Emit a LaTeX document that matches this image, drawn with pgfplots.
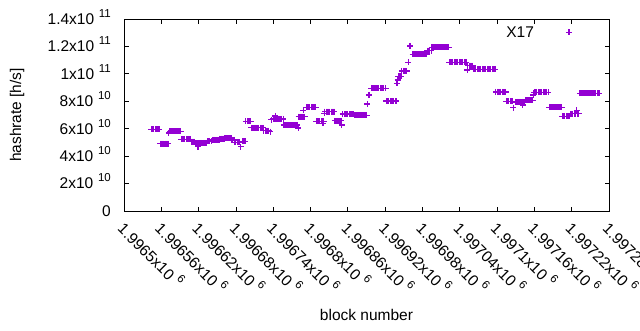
\documentclass[border=0pt]{standalone}
\usepackage{fontspec}
\setmainfont{Liberation Sans}
\usepackage{pgfplots}
\pgfplotsset{compat=1.18}
\definecolor{gpviolet}{HTML}{9400D3}
\newcommand\sups[1]{\hspace{0.3em}\raisebox{0.45em}[0pt][0pt]{\fontsize{11.5}{12}\selectfont #1}}
\begin{document}
\begin{tikzpicture}[font=\fontsize{15.5}{18}\selectfont]
\begin{axis}[
  scale only axis, width=485pt, height=192pt,
  xmin=500, xmax=1280, ymin=0, ymax=1.4e11,
  scaled y ticks=false, scaled x ticks=false,
  axis line style={line width=0.8pt},
  tick style={line width=0.8pt, black},
  major tick length=4.5pt, tick align=inside, tick pos=both,
  xtick={500,560,...,1280},
  xticklabels={1.9965x10\sups{6},1.99656x10\sups{6},1.99662x10\sups{6},1.99668x10\sups{6},1.99674x10\sups{6},1.9968x10\sups{6},1.99686x10\sups{6},1.99692x10\sups{6},1.99698x10\sups{6},1.99704x10\sups{6},1.9971x10\sups{6},1.99716x10\sups{6},1.99722x10\sups{6},1.99728x10\sups{6}},
  xticklabel style={yshift=-11pt, xshift=0.5pt, rotate=-45, anchor=north west, inner sep=0pt},
  ytick={0,2e10,4e10,6e10,8e10,1e11,1.2e11,1.4e11},
  yticklabels={0,2x10\sups{10},4x10\sups{10},6x10\sups{10},8x10\sups{10},1x10\sups{11},1.2x10\sups{11},1.4x10\sups{11}},
  yticklabel style={xshift=-13pt, anchor=east, inner sep=0pt},
  every axis x label/.style={at={(rel axis cs:0.5,0)}, anchor=center, yshift=-104pt},
  every axis y label/.style={at={(rel axis cs:0,0.5)}, anchor=center, xshift=-107pt, rotate=90},
  xlabel={block number},
  ylabel={hashrate [h/s]},
  legend plot pos=right,
  legend style={draw=none, fill=none, at={(rel axis cs:0.788,0.93)}, anchor=west, inner sep=0pt, nodes={inner sep=0pt}, /tikz/column sep=0pt},
  legend image code/.code={\path[draw=none, fill=none] (0pt,0pt) rectangle (35pt,0pt); \path[#1, draw=none] plot coordinates {(35pt,0pt)};},
]
\coordinate (bl) at (rel axis cs:0,0);
\coordinate (tr) at (rel axis cs:1,1);
\addplot[only marks, mark=+, mark size=3pt, color=gpviolet, mark options={line width=1.1pt, draw=gpviolet}] coordinates {
(544,5.96e10)(546,5.96e10)(548,5.96e10)(550,5.96e10)(552,5.96e10)(554,5.96e10)(556,5.96e10)(557,5.96e10)
(558,4.91e10)(560,4.91e10)(562,4.91e10)(564,4.91e10)(566,4.91e10)(568,4.91e10)(570,4.91e10)(571,4.91e10)
(572,5.69e10)
(574,5.81e10)(576,5.81e10)(578,5.81e10)(580,5.81e10)(582,5.81e10)(584,5.81e10)(586,5.81e10)(588,5.81e10)(590,5.81e10)(591,5.81e10)
(592,5.23e10)(594,5.23e10)(596,5.23e10)(598,5.23e10)(600,5.23e10)(602,5.23e10)(604,5.23e10)(606,5.23e10)(607,5.23e10)
(608,5.05e10)(610,5.05e10)(612,5.05e10)(614,5.05e10)
(615,4.94e10)(617,4.94e10)(619,4.94e10)(621,4.94e10)(622,4.94e10)(619,4.69e10)
(623,4.96e10)(625,4.96e10)(627,4.96e10)(629,4.96e10)(631,4.96e10)(633,4.96e10)
(634,5.10e10)(636,5.10e10)(638,5.10e10)(640,5.10e10)(641,5.10e10)
(642,5.18e10)(644,5.18e10)(646,5.18e10)(648,5.18e10)(650,5.18e10)(652,5.18e10)(653,5.18e10)
(654,5.27e10)(656,5.27e10)(658,5.27e10)(660,5.27e10)(661,5.27e10)
(662,5.32e10)(664,5.32e10)(666,5.32e10)(668,5.32e10)(670,5.32e10)(672,5.32e10)
(673,5.18e10)(675,5.18e10)(677,5.18e10)
(678,5.01e10)(680,5.01e10)(682,5.01e10)(684,5.01e10)(686,5.01e10)(688,4.69e10)
(690,5.10e10)(692,5.10e10)(694,5.10e10)(695,5.10e10)
(696,6.54e10)(698,6.54e10)(700,6.54e10)(702,6.54e10)(704,6.54e10)
(705,6.07e10)(707,6.07e10)(709,6.07e10)(711,6.07e10)(713,6.07e10)(715,6.07e10)(717,6.07e10)(719,6.07e10)(721,6.07e10)(723,6.07e10)(724,6.07e10)
(725,5.86e10)(727,5.86e10)(729,5.86e10)(731,5.86e10)(733,5.86e10)(735,5.78e10)
(737,6.64e10)
(740,6.71e10)(742,6.71e10)(743,6.93e10)(744,6.71e10)(746,6.71e10)(748,6.71e10)(750,6.71e10)(752,6.71e10)(754,6.71e10)(756,6.71e10)
(757,6.27e10)(759,6.27e10)(761,6.27e10)(763,6.27e10)(765,6.27e10)(767,6.27e10)(769,6.27e10)(771,6.27e10)(773,6.27e10)(775,6.27e10)(777,6.27e10)(779,6.27e10)(780,6.05e10)
(781,6.88e10)(783,6.88e10)(785,6.88e10)(787,6.88e10)(788,7.36e10)(789,6.88e10)(791,6.88e10)
(793,7.56e10)(795,7.56e10)(797,7.56e10)(799,7.56e10)(801,7.56e10)(803,7.56e10)(805,7.56e10)(807,7.56e10)(808,7.56e10)
(809,6.54e10)(811,6.54e10)(813,6.54e10)(815,6.54e10)(817,6.54e10)(819,6.54e10)(820,6.39e10)(821,6.54e10)
(822,7.12e10)
(823,7.24e10)(825,7.24e10)(827,7.24e10)(829,7.24e10)(831,7.24e10)(833,7.24e10)(835,7.24e10)(837,7.24e10)(838,7.24e10)
(839,6.58e10)(841,6.58e10)(843,6.58e10)(845,6.58e10)(847,6.58e10)(849,6.58e10)(850,6.27e10)
(852,7.07e10)(854,7.07e10)(856,7.07e10)(858,7.07e10)(860,7.07e10)(862,7.07e10)(864,7.07e10)(866,7.07e10)(868,7.07e10)(869,7.07e10)
(870,6.98e10)(872,6.98e10)(874,6.98e10)(876,6.98e10)(878,6.98e10)(880,6.98e10)(882,6.98e10)(884,6.98e10)(886,6.98e10)(888,6.98e10)(890,6.98e10)
(891,7.80e10)(894,8.46e10)
(898,8.95e10)(900,8.95e10)(902,8.95e10)(904,8.95e10)(906,8.95e10)(908,8.95e10)(910,8.95e10)(912,8.95e10)(914,8.95e10)(916,8.95e10)(918,8.95e10)(920,8.95e10)(921,8.95e10)
(922,8.02e10)(924,8.02e10)(926,8.02e10)(928,8.02e10)(930,8.02e10)(932,8.02e10)(934,8.02e10)(936,8.02e10)(938,8.02e10)
(939,9.31e10)(940,9.55e10)
(941,9.84e10)(943,9.84e10)(945,9.84e10)(946,9.84e10)
(947,1.021e11)(949,1.021e11)(951,1.021e11)(953,1.021e11)(955,1.021e11)
(957,1.084e11)(960,1.203e11)
(964,1.143e11)(966,1.143e11)(968,1.143e11)(970,1.143e11)(972,1.143e11)(974,1.143e11)(976,1.143e11)(978,1.143e11)(980,1.143e11)(982,1.143e11)(984,1.143e11)(986,1.143e11)(987,1.143e11)
(988,1.170e11)(990,1.170e11)(992,1.170e11)(994,1.170e11)
(995,1.194e11)(997,1.194e11)(999,1.194e11)(1001,1.194e11)(1003,1.194e11)(1005,1.194e11)(1007,1.194e11)(1009,1.194e11)(1011,1.194e11)(1013,1.194e11)(1015,1.194e11)(1017,1.194e11)(1019,1.194e11)(1021,1.194e11)(1022,1.194e11)
(1023,1.084e11)(1025,1.084e11)(1027,1.084e11)(1029,1.084e11)(1031,1.084e11)(1033,1.084e11)(1035,1.084e11)(1037,1.084e11)(1039,1.084e11)(1041,1.084e11)(1043,1.084e11)(1045,1.084e11)(1047,1.084e11)(1049,1.084e11)(1050,1.084e11)
(1052,1.028e11)
(1053,1.060e11)(1055,1.060e11)(1057,1.060e11)(1059,1.060e11)(1061,1.060e11)
(1062,1.033e11)(1064,1.033e11)(1066,1.033e11)(1068,1.033e11)(1070,1.033e11)(1072,1.033e11)(1074,1.033e11)(1076,1.033e11)(1078,1.033e11)(1080,1.033e11)(1082,1.033e11)(1084,1.033e11)(1086,1.033e11)(1088,1.033e11)(1090,1.033e11)(1092,1.033e11)(1094,1.033e11)(1096,1.033e11)(1097,1.033e11)
(1098,8.68e10)(1100,8.68e10)(1102,8.68e10)(1104,8.68e10)(1106,8.68e10)(1108,8.68e10)(1110,8.68e10)(1112,8.68e10)(1114,8.68e10)
(1115,8.00e10)(1117,8.00e10)(1119,8.00e10)(1121,8.00e10)(1123,8.00e10)(1125,8.00e10)(1126,7.53e10)
(1130,7.95e10)(1132,7.95e10)(1134,7.95e10)(1136,7.95e10)(1138,7.95e10)(1140,7.95e10)(1141,7.73e10)(1142,7.95e10)(1144,7.95e10)
(1145,8.07e10)(1147,8.07e10)(1149,8.07e10)(1151,8.07e10)(1152,8.07e10)
(1153,8.09e10)(1155,8.09e10)(1157,8.09e10)
(1158,8.46e10)(1159,8.63e10)
(1160,8.65e10)(1162,8.65e10)(1164,8.65e10)(1166,8.65e10)(1168,8.65e10)(1170,8.65e10)(1172,8.65e10)(1174,8.65e10)(1176,8.65e10)(1178,8.65e10)(1180,8.65e10)(1182,8.65e10)
(1184,7.56e10)(1186,7.56e10)(1188,7.56e10)(1190,7.56e10)(1192,7.56e10)(1194,7.56e10)(1196,7.56e10)(1198,7.56e10)(1200,7.56e10)(1202,7.56e10)(1204,7.56e10)
(1205,6.90e10)(1207,6.90e10)(1209,6.90e10)(1211,6.90e10)(1213,6.90e10)(1215,6.90e10)(1217,6.90e10)
(1218,7.09e10)(1220,7.09e10)(1222,7.09e10)(1224,7.09e10)(1226,7.09e10)(1228,7.36e10)(1229,7.09e10)(1231,7.09e10)
(1233,8.60e10)(1235,8.60e10)(1237,8.60e10)(1239,8.60e10)(1241,8.60e10)(1243,8.60e10)(1245,8.60e10)(1247,8.60e10)(1249,8.60e10)(1251,8.60e10)(1253,8.60e10)(1255,8.60e10)(1257,8.60e10)(1259,8.60e10)(1261,8.60e10)(1263,8.60e10)(1264,8.60e10)
};
\addlegendentry{X17}
\end{axis}
\pgfresetboundingbox
\path[use as bounding box] ([shift={(-124pt,-119pt)}]bl) rectangle ([shift={(31pt,19pt)}]tr);
\end{tikzpicture}
\end{document}
